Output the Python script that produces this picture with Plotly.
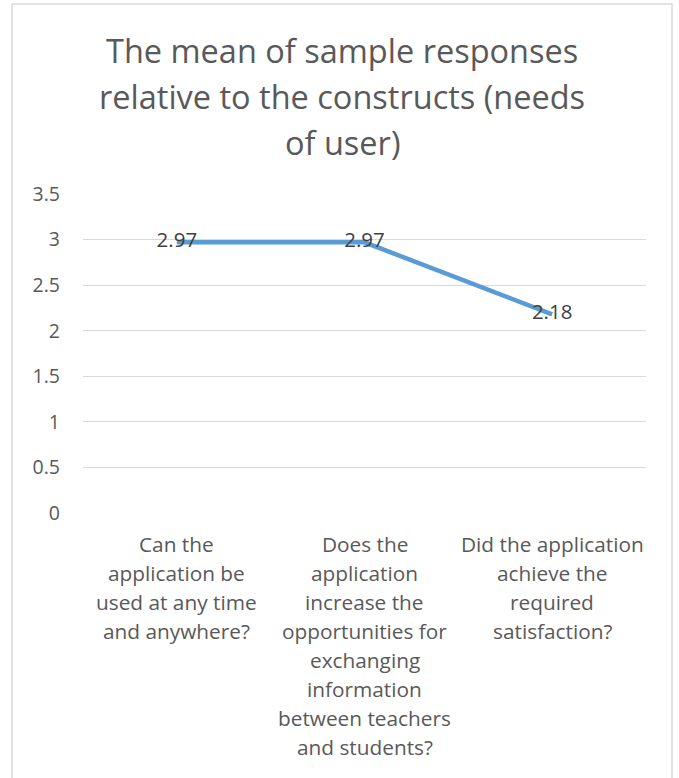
import plotly.graph_objects as go

categories = [
    "Can the application be used at any time and anywhere?",
    "Does the application increase the opportunities for exchanging information between teachers and students?",
    "Did the application achieve the required satisfaction?",
]
values = [2.97, 2.97, 2.18]
label_lines = [
    ["Can the", "application be", "used at any time", "and anywhere?"],
    ["Does the", "application", "increase the", "opportunities for", "exchanging",
     "information", "between teachers", "and students?"],
    ["Did the application", "achieve the", "required", "satisfaction?"],
]
title_lines = [
    "The mean of sample responses",
    "relative to the constructs (needs",
    "of user)",
]
y_ticks = [0, 0.5, 1, 1.5, 2, 2.5, 3, 3.5]

FONT = "Open Sans"
W, H = 679, 778
L, R, T, B = 83, 33, 194, 265
pw = W - L - R
ph = H - T - B

fig = go.Figure()
fig.add_trace(go.Scatter(
    x=categories, y=values, mode="lines+text",
    text=[f"{v:.2f}" for v in values], textposition="middle center",
    textfont=dict(family=FONT, size=20.5, color="#404040"),
    line=dict(color="#5B9BD5", width=4.5),
    showlegend=False, cliponaxis=False,
))

annotations = []
for cat, lines in zip(categories, label_lines):
    for i, ln in enumerate(lines):
        annotations.append(dict(
            x=cat, xref="x", y=0, yref="paper", text=ln, showarrow=False,
            xanchor="center", yanchor="middle", yshift=-(31 + 29 * i),
            font=dict(family=FONT, size=20.8, color="#595959"),
        ))

title_cx = ((12 + 672) / 2 - L) / pw
for i, ln in enumerate(title_lines):
    annotations.append(dict(
        x=title_cx, xref="paper", y=1, yref="paper", text=ln, showarrow=False,
        xanchor="center", yanchor="middle", yshift=(T - (50 + 46 * i)),
        font=dict(family=FONT, size=32.5, color="#595959"),
    ))

fig.add_shape(type="rect", xref="paper", yref="paper",
              x0=(12 - L) / pw, x1=(672 - L) / pw,
              y0=(H - 790 - B) / ph, y1=1 + (T - 4) / ph,
              line=dict(color="#D9D9D9", width=1.5), fillcolor="rgba(0,0,0,0)", layer="below")

fig.update_layout(
    width=W, height=H, margin=dict(l=L, r=R, t=T, b=B, autoexpand=False),
    paper_bgcolor="white", plot_bgcolor="white",
    annotations=annotations,
    xaxis=dict(type="category", range=[-0.5, 2.5], showticklabels=False,
               showgrid=False, zeroline=False, showline=False, fixedrange=True),
    yaxis=dict(range=[0, 3.5], tickvals=y_ticks, ticktext=[f"{t:g}" for t in y_ticks],
               showgrid=True, gridcolor="#D9D9D9", gridwidth=1.3, zeroline=False,
               showline=False, ticks="", ticklabelstandoff=22,
               tickfont=dict(family=FONT, size=19.5, color="#595959")),
    font=dict(family=FONT),
)
fig.write_html("out.html")
